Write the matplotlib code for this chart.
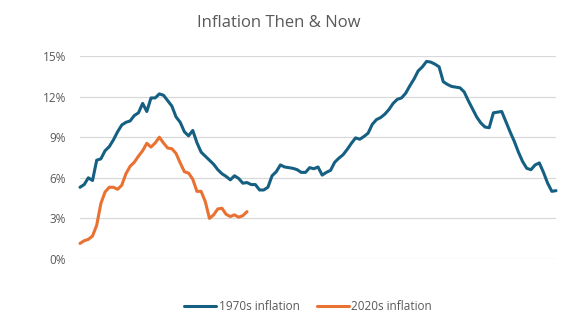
import numpy as np
import matplotlib
matplotlib.use('Agg')
from matplotlib import pyplot as plt
from matplotlib.ticker import FuncFormatter, MultipleLocator

plt.rcParams['font.family'] = ['Open Sans', 'DejaVu Sans']

# monthly CPI inflation, % year over year
infl_1970s = [5.3, 5.5, 6.0, 5.8, 7.3, 7.4, 8.0, 8.3, 8.8, 9.4,
              9.9, 10.1, 10.2, 10.6, 10.8, 11.5, 10.9, 11.9, 11.9, 12.2,
              12.1, 11.7, 11.3, 10.5, 10.1, 9.4, 9.1, 9.5, 8.6, 7.9,
              7.6, 7.3, 7.0, 6.6, 6.3, 6.1, 5.85, 6.15, 5.95, 5.6,
              5.65, 5.5, 5.5, 5.1, 5.1, 5.3, 6.15, 6.45, 6.95, 6.8,
              6.75, 6.7, 6.6, 6.4, 6.4, 6.75, 6.67, 6.8, 6.2, 6.4,
              6.55, 7.15, 7.45, 7.7, 8.1, 8.55, 8.95, 8.85, 9.05, 9.3,
              9.95, 10.3, 10.45, 10.7, 11.05, 11.5, 11.8, 11.9, 12.25, 12.8,
              13.3, 13.9, 14.2, 14.6, 14.55, 14.4, 14.2, 13.1, 12.9, 12.75,
              12.7, 12.65, 12.35, 11.7, 11.1, 10.5, 10.05, 9.75, 9.7, 10.8,
              10.85, 10.9, 10.15, 9.4, 8.7, 7.9, 7.2, 6.7, 6.6, 6.95,
              7.1, 6.4, 5.6, 5.0, 5.05]
infl_2020s = [1.15, 1.35, 1.45, 1.7, 2.5, 4.1, 4.95, 5.3, 5.3, 5.15,
              5.45, 6.3, 6.85, 7.15, 7.6, 8.0, 8.55, 8.27, 8.57, 9.0,
              8.57, 8.2, 8.15, 7.8, 7.1, 6.45, 6.35, 5.9, 5.0, 5.0,
              4.25, 3.0, 3.26, 3.7, 3.75, 3.3, 3.14, 3.26, 3.09, 3.2,
              3.5]
labels = ['1970s inflation', '2020s inflation']

blue = '#156082'
orange = '#E97132'
grey = '#595959'

fig = plt.figure(figsize=(5.75, 3.3), dpi=100)
ax = fig.add_axes([80/575, 1-259/330, 476/575, 203/330])

ax.plot(np.arange(len(infl_1970s)), np.array(infl_1970s)/100, c=blue, lw=2.2,
        label=labels[0], solid_joinstyle='round', solid_capstyle='round', clip_on=False)
ax.plot(np.arange(len(infl_2020s)), np.array(infl_2020s)/100, c=orange, lw=2.2,
        label=labels[1], solid_joinstyle='round', solid_capstyle='round', clip_on=False)

ax.set_xlim(0, len(infl_1970s)-1)
ax.set_ylim(0, 0.15)
ax.yaxis.set_major_locator(MultipleLocator(0.03))
ax.yaxis.set_major_formatter(FuncFormatter(lambda v, p: '%d%%' % round(v*100)))
ax.set_xticks([])
ax.grid(axis='y', color='#d9d9d9', lw=0.9)
ax.set_axisbelow(True)
for s in ax.spines.values():
    s.set_visible(False)
ax.tick_params(axis='y', length=0, pad=10, labelsize=8.5, labelcolor=grey)

fig.text(0.484, 0.93, 'Inflation Then & Now', ha='center', va='center',
         fontsize=12, color=grey)

fig.legend(loc='center', bbox_to_anchor=(0.536, 1-307/330), ncol=2, frameon=False,
           fontsize=8.5, labelcolor=grey, handlelength=2.7, handletextpad=0.2,
           columnspacing=1.5)

plt.savefig('out.png', dpi=100)
